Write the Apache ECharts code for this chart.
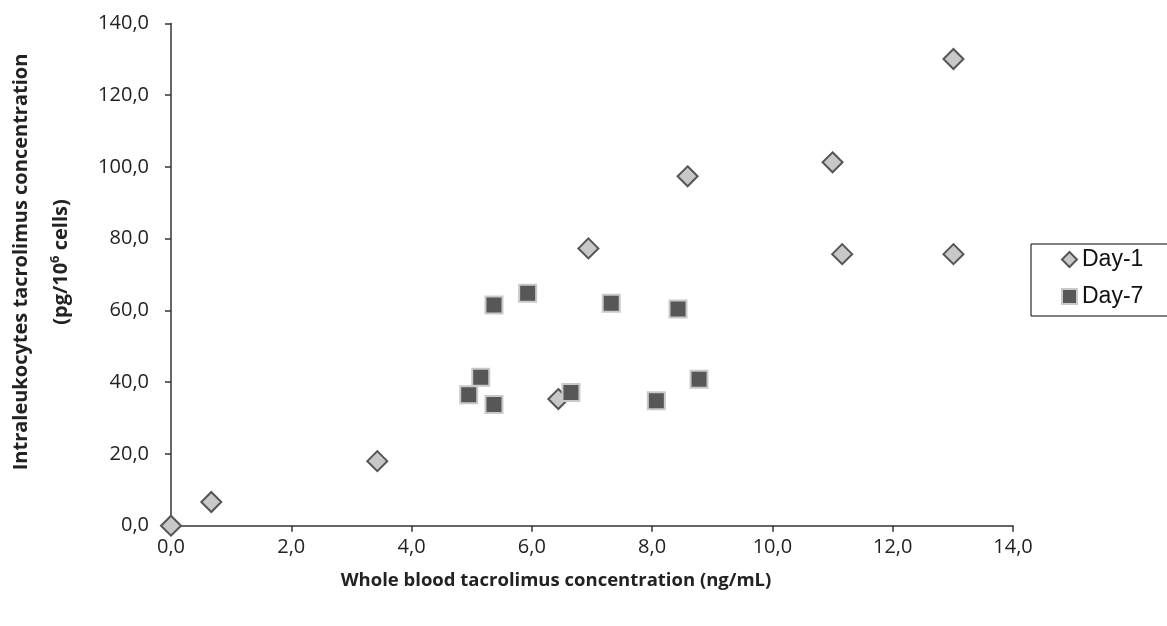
<!DOCTYPE html>
<html>
<head>
<meta charset="utf-8">
<script src="https://cdn.jsdelivr.net/npm/echarts@6/dist/echarts.min.js"></script>
<style>html,body{margin:0;padding:0;background:#fff;}#chart{width:1167px;height:626px;}</style>
</head>
<body>
<div id="chart"></div>
<script>
const seriesNames = ['Day-1', 'Day-7'];
const day1 = [
  [0.0, 0.0], [0.67, 6.6], [3.43, 18.0], [6.44, 35.3], [6.94, 77.3],
  [8.59, 97.4], [11.0, 101.3], [11.16, 75.7], [13.01, 75.7], [13.01, 130.1]
];
const day7 = [
  [4.95, 36.5], [5.15, 41.4], [5.37, 33.8], [5.37, 61.5], [5.93, 64.8],
  [6.65, 37.1], [7.32, 62.0], [8.07, 34.8], [8.43, 60.4], [8.78, 40.8]
];
const xTitle = 'Whole blood tacrolimus concentration (ng/mL)';
const yTitle1 = 'Intraleukocytes tacrolimus concentration';
const yTitle2a = '(pg/10';
const yTitleSup = '6';
const yTitle2b = ' cells)';

const fmt = v => v.toFixed(1).replace('.', ',');
const axisCol = '#333';
const chart = echarts.init(document.getElementById('chart'));
chart.setOption({
  animation: false,
  grid: { left: 171, top: 23.5, right: 154, bottom: 100.3, containLabel: false, outerBoundsMode: 'none' },
  legend: {
    orient: 'vertical', left: 1031, top: 244,
    borderColor: '#000', borderWidth: 1,
    padding: [4, 40, 8, 30], itemGap: 14,
    itemWidth: 15, itemHeight: 15,
    textStyle: { fontFamily: 'Liberation Sans', fontSize: 23, color: '#111' },
    data: seriesNames
  },
  graphic: [{
    type: 'text', x: 41, y: 262, rotation: Math.PI / 2,
    style: {
      text: '{b|' + yTitle1 + '}\n{b|' + yTitle2a + '}{s|' + yTitleSup + '}{b|' + yTitle2b + '}',
      align: 'center', verticalAlign: 'middle',
      rich: {
        b: { fontFamily: 'Open Sans', fontWeight: 'bold', fontSize: 20, fill: '#222', lineHeight: 40 },
        s: { fontFamily: 'Open Sans', fontWeight: 'bold', fontSize: 13, fill: '#222', lineHeight: 40, padding: [0, 0, 12, 0] }
      }
    }
  }, {
    type: 'text', x: 556, y: 581,
    style: {
      text: xTitle, align: 'center', verticalAlign: 'middle',
      fontFamily: 'Open Sans', fontWeight: 'bold', fontSize: 18.5, fill: '#222'
    }
  }],
  xAxis: {
    type: 'value', min: 0, max: 14, interval: 2,
    axisLine: { show: true, onZero: false, lineStyle: { color: axisCol, width: 1.5 } },
    axisTick: { show: true, length: 6, lineStyle: { color: axisCol, width: 1.5 } },
    axisLabel: { margin: 12, formatter: fmt, fontFamily: 'Open Sans', fontSize: 20, color: '#222' },
    splitLine: { show: false }
  },
  yAxis: {
    type: 'value', min: 0, max: 140, interval: 20,
    axisLine: { show: true, onZero: false, lineStyle: { color: axisCol, width: 1.5 } },
    axisTick: { show: true, length: 6, lineStyle: { color: axisCol, width: 1.5 } },
    axisLabel: { margin: 22, formatter: fmt, fontFamily: 'Open Sans', fontSize: 20, color: '#222' },
    splitLine: { show: false }
  },
  series: [
    {
      name: seriesNames[0], type: 'scatter', symbol: 'diamond', symbolSize: 20,
      itemStyle: { color: '#c8c8c8', borderColor: '#555', borderWidth: 2, opacity: 1 },
      data: day1
    },
    {
      name: seriesNames[1], type: 'scatter', symbol: 'rect', symbolSize: 17,
      itemStyle: { color: '#575757', borderColor: '#c9c9c9', borderWidth: 2, opacity: 1 },
      data: day7
    }
  ]
});
</script>
</body>
</html>
